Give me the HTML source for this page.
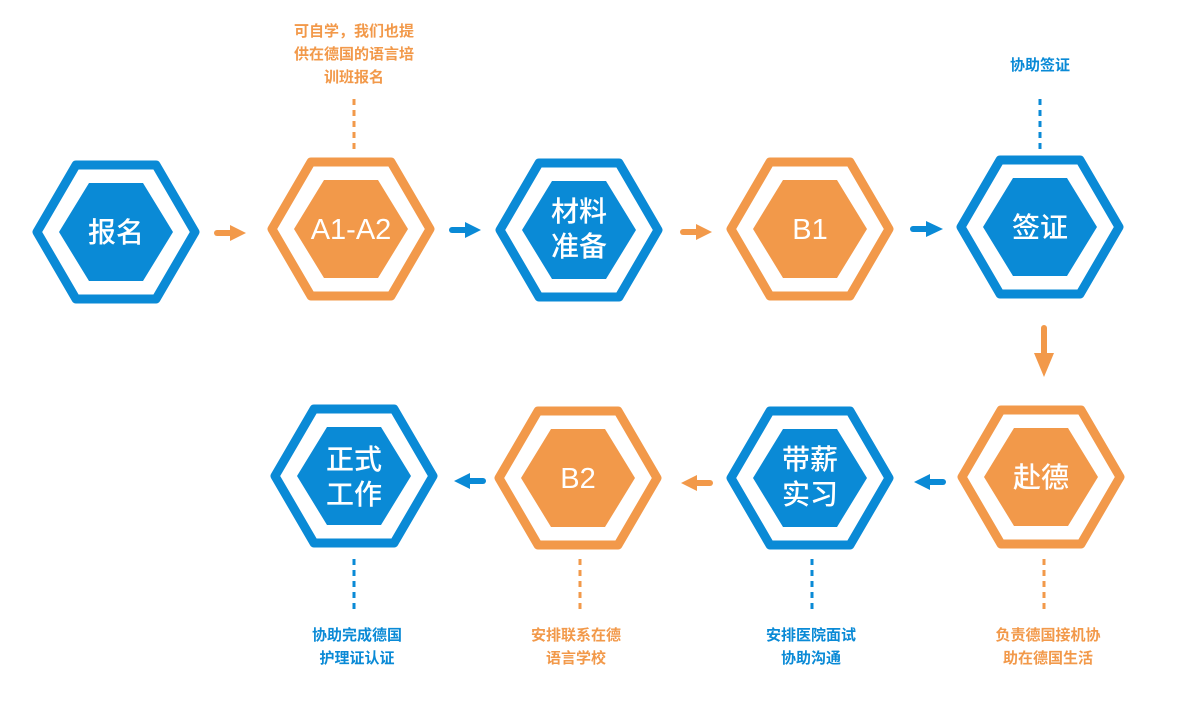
<!DOCTYPE html>
<html><head><meta charset="utf-8"><style>
html,body{margin:0;padding:0;background:#fff;}
svg{display:block}
text{font-family:"Liberation Sans","Noto Sans CJK SC",sans-serif;}
</style></head><body>
<svg width="1186" height="705" viewBox="0 0 1186 705" xmlns="http://www.w3.org/2000/svg">
<defs>
<g id="outer"><polygon points="-79,0 -40,-67 40,-67 79,0 40,67 -40,67" fill="none" stroke-width="9" stroke-linejoin="round"/></g>
<g id="inner"><polygon points="-57,0 -27,-49 27,-49 57,0 27,49 -27,49"/></g>
</defs>
<g id="hexes">
<g transform="translate(116,232)" stroke="#0a8ad6" fill="#0a8ad6"><use href="#outer"/><use href="#inner" stroke="none"/></g>
<g transform="translate(351,229)" stroke="#f2994a" fill="#f2994a"><use href="#outer"/><use href="#inner" stroke="none"/></g>
<g transform="translate(579,230)" stroke="#0a8ad6" fill="#0a8ad6"><use href="#outer"/><use href="#inner" stroke="none"/></g>
<g transform="translate(810,229)" stroke="#f2994a" fill="#f2994a"><use href="#outer"/><use href="#inner" stroke="none"/></g>
<g transform="translate(1040,227)" stroke="#0a8ad6" fill="#0a8ad6"><use href="#outer"/><use href="#inner" stroke="none"/></g>
<g transform="translate(354,476)" stroke="#0a8ad6" fill="#0a8ad6"><use href="#outer"/><use href="#inner" stroke="none"/></g>
<g transform="translate(578,478)" stroke="#f2994a" fill="#f2994a"><use href="#outer"/><use href="#inner" stroke="none"/></g>
<g transform="translate(810,478)" stroke="#0a8ad6" fill="#0a8ad6"><use href="#outer"/><use href="#inner" stroke="none"/></g>
<g transform="translate(1041,477)" stroke="#f2994a" fill="#f2994a"><use href="#outer"/><use href="#inner" stroke="none"/></g>
</g>
<g fill="#fff" font-size="28" text-anchor="middle" font-weight="500">
<text x="116" y="242">报名</text>
<text x="351" y="239" font-size="29">A1-A2</text>
<text x="579" y="221">材料</text>
<text x="579" y="256">准备</text>
<text x="810" y="239" font-size="29">B1</text>
<text x="1040" y="237">签证</text>
<text x="354" y="469">正式</text>
<text x="354" y="504">工作</text>
<text x="578" y="488" font-size="29">B2</text>
<text x="810" y="469">带薪</text>
<text x="810" y="504">实习</text>
<text x="1041" y="487">赴德</text>
</g>
<g stroke-linecap="round">
<g fill="#f2994a" stroke="#f2994a"><line x1="217" y1="233" x2="232" y2="233" stroke-width="6"/><polygon points="230,225 246,233 230,241" stroke="none"/></g>
<g fill="#0a8ad6" stroke="#0a8ad6"><line x1="452" y1="230" x2="467" y2="230" stroke-width="6"/><polygon points="465,222 481,230 465,238" stroke="none"/></g>
<g fill="#f2994a" stroke="#f2994a"><line x1="683" y1="232" x2="698" y2="232" stroke-width="6"/><polygon points="696,224 712,232 696,240" stroke="none"/></g>
<g fill="#0a8ad6" stroke="#0a8ad6"><line x1="913" y1="229" x2="928" y2="229" stroke-width="6"/><polygon points="926,221 943,229 926,237" stroke="none"/></g>
<g fill="#f2994a" stroke="#f2994a"><line x1="1044" y1="328" x2="1044" y2="356" stroke-width="6"/><polygon points="1034,353 1054,353 1044,377" stroke="none"/></g>
<g fill="#0a8ad6" stroke="#0a8ad6"><line x1="943" y1="482" x2="928" y2="482" stroke-width="6"/><polygon points="930,474 914,482 930,490" stroke="none"/></g>
<g fill="#f2994a" stroke="#f2994a"><line x1="710" y1="483" x2="695" y2="483" stroke-width="6"/><polygon points="697,475 681,483 697,491" stroke="none"/></g>
<g fill="#0a8ad6" stroke="#0a8ad6"><line x1="483" y1="481" x2="468" y2="481" stroke-width="6"/><polygon points="470,473 454,481 470,489" stroke="none"/></g>
</g>
<g stroke-width="3" stroke-dasharray="6,5" fill="none">
<line x1="354" y1="99" x2="354" y2="152" stroke="#f2994a"/>
<line x1="1040" y1="99" x2="1040" y2="152" stroke="#0a8ad6"/>
<line x1="354" y1="559" x2="354" y2="612" stroke="#0a8ad6"/>
<line x1="580" y1="559" x2="580" y2="612" stroke="#f2994a"/>
<line x1="812" y1="559" x2="812" y2="612" stroke="#0a8ad6"/>
<line x1="1044" y1="559" x2="1044" y2="612" stroke="#f2994a"/>
</g>
<g font-size="15" text-anchor="middle" font-weight="bold">
<g fill="#f2994a"><text x="354" y="36">可自学，我们也提</text><text x="354" y="59">供在德国的语言培</text><text x="354" y="82">训班报名</text></g>
<text x="1040" y="70" fill="#0a8ad6">协助签证</text>
<g fill="#0a8ad6"><text x="357" y="640">协助完成德国</text><text x="357" y="663">护理证认证</text></g>
<g fill="#f2994a"><text x="576" y="640">安排联系在德</text><text x="576" y="663">语言学校</text></g>
<g fill="#0a8ad6"><text x="811" y="640">安排医院面试</text><text x="811" y="663">协助沟通</text></g>
<g fill="#f2994a"><text x="1048" y="640">负责德国接机协</text><text x="1048" y="663">助在德国生活</text></g>
</g>
</svg>
</body></html>
